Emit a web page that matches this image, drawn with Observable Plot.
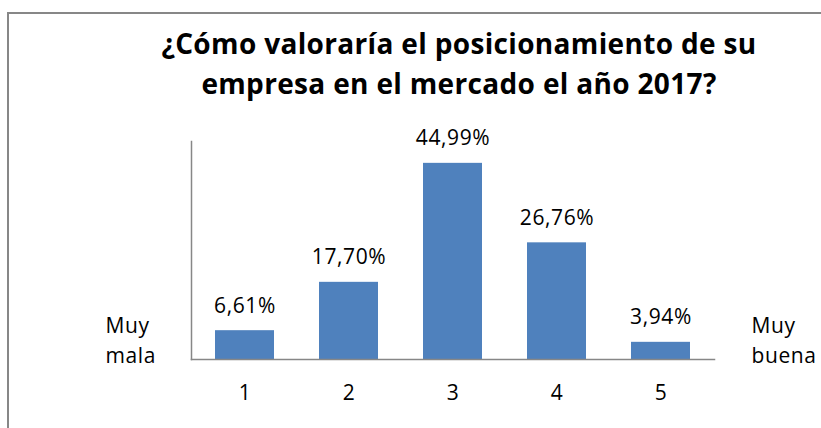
<!DOCTYPE html>
<html><head><meta charset="utf-8">
<script src="https://cdn.jsdelivr.net/npm/d3@7"></script>
<script src="https://cdn.jsdelivr.net/npm/@observablehq/plot@0.6"></script>
<style>
body{margin:0;background:#fff}
#wrap{position:relative;width:821px;height:428px;overflow:hidden;font-family:"Open Sans",Lato,sans-serif;background:#fff}
#border{position:absolute;left:7px;top:12px;width:830px;height:440px;border-left:2px solid #878787;border-top:2px solid #878787}
#title{position:absolute;left:97px;width:724px;top:23px;text-align:center;font-weight:bold;font-size:28px;line-height:40px;color:#000;white-space:nowrap}
#title span{display:inline-block}
#chart{position:absolute;left:0;top:0}
#chart svg text{letter-spacing:0.6px}
</style>
</head><body>
<div id="wrap">
  <div id="border"></div>
  <div id="chart"></div>
  <div id="title"><span id="t1"></span><br><span id="t2"></span></div>
</div>
<script>
const titleLines = ["¿Cómo valoraría el posicionamiento de su", "empresa en el mercado el año 2017?"];
const categories = ["1", "2", "3", "4", "5"];
const values = [6.61, 17.70, 44.99, 26.76, 3.94];
const valueLabels = ["6,61%", "17,70%", "44,99%", "26,76%", "3,94%"];
const leftEndLabel = "Muy\nmala";
const rightEndLabel = "Muy\nbuena";

const data = categories.map((c, i) => ({cat: c, value: values[i], label: valueLabels[i]}));

document.getElementById("t1").textContent = titleLines[0];
document.getElementById("t2").textContent = titleLines[1];

const chart = Plot.plot({
  width: 821,
  height: 428,
  marginLeft: 191,
  marginRight: 107,
  marginTop: 141,
  marginBottom: 69,
  style: {fontFamily: "'Open Sans', Lato, sans-serif", fontSize: "21px", color: "#000", background: "transparent", overflow: "visible"},
  x: {domain: categories, paddingInner: 0.43, paddingOuter: 0.215, axis: null},
  y: {domain: [0, 50], axis: null},
  marks: [
    Plot.barY(data, {x: "cat", y: "value", fill: "#4F81BD"}),
    Plot.frame({anchor: "left", stroke: "#878787", strokeWidth: 1.5}),
    Plot.frame({anchor: "bottom", stroke: "#878787", strokeWidth: 1.5}),
    Plot.text(data, {x: "cat", y: "value", text: "label", lineAnchor: "bottom", dy: -18, fontSize: 21, fill: "#000"}),
    Plot.axisX({tickSize: 0, tickPadding: 26, fontSize: 21, label: null, fill: "#000"}),
    Plot.text([leftEndLabel], {frameAnchor: "bottom-left", text: d => d, textAnchor: "start", lineAnchor: "bottom", lineHeight: 1.42, dx: -86, dy: 3, fontSize: 21, fill: "#000"}),
    Plot.text([rightEndLabel], {frameAnchor: "bottom-right", text: d => d, textAnchor: "start", lineAnchor: "bottom", lineHeight: 1.42, dx: 37, dy: 3, fontSize: 21, fill: "#000"})
  ]
});
document.getElementById("chart").appendChild(chart);

function fitTitle() {
  const t1 = document.getElementById("t1");
  const title = document.getElementById("title");
  title.style.letterSpacing = "0px";
  const w = t1.getBoundingClientRect().width;
  const ls = (595 - w) / titleLines[0].length;
  title.style.letterSpacing = ls + "px";
}
fitTitle();
if (document.fonts && document.fonts.ready) document.fonts.ready.then(fitTitle);
</script>
</body></html>
